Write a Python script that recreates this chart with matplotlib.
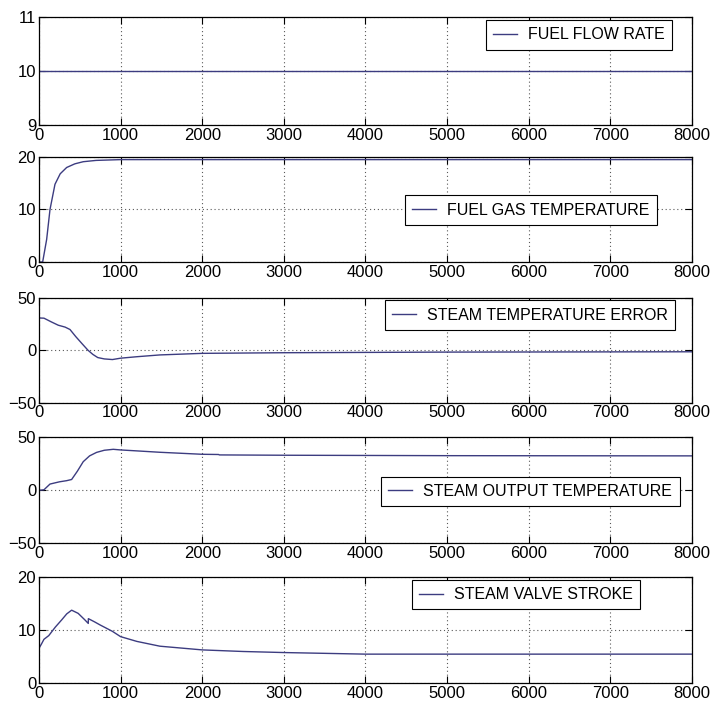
import numpy as np
import matplotlib.pyplot as plt

plt.rcParams['font.family'] = ['Liberation Sans', 'DejaVu Sans']

# time axis and values
t_flow = [0, 8000]
fuel_flow = [10, 10]

t_gas = [0, 45, 94, 135, 196, 260, 339, 440, 542, 700, 1000, 2000, 8000]
fuel_gas = [0, 0, 4.3, 10, 14.8, 16.8, 18.0, 18.7, 19.1, 19.35, 19.5, 19.5, 19.5]

t_err = [0, 61, 150, 236, 320, 380, 450, 530, 600, 660, 720, 800, 900, 1000, 1200, 1481, 2000, 3000, 5000, 8000]
steam_err = [30.7, 30.5, 27, 23.8, 22, 19.7, 13, 6, 0, -4, -7, -8.3, -8.9, -7.6, -6.2, -4.5, -3.0, -2.4, -1.8, -1.5]

t_out = [0, 61, 135, 250, 339, 400, 470, 542, 620, 706, 800, 910, 1000, 1200, 1481, 2000, 2200, 2210, 3000, 5000, 8000]
steam_out = [0, 0.5, 5.9, 8.0, 9.1, 10.2, 18, 27, 32.5, 35.8, 37.8, 38.7, 38.1, 37.2, 35.9, 34.0, 33.8, 33.4, 33.1, 32.7, 32.5]

t_valve = [0, 30, 61, 120, 200, 280, 340, 400, 480, 560, 604, 605, 680, 750, 900, 1000, 1200, 1481, 2000, 2500, 3000, 4000, 8000]
valve = [6.6, 7.4, 8.3, 9.0, 10.6, 12.0, 13.1, 13.8, 13.2, 12.0, 11.3, 12.2, 11.6, 11.0, 9.8, 8.8, 7.9, 7.0, 6.3, 6.0, 5.8, 5.5, 5.5]

series = [
    (t_flow, fuel_flow, 'FUEL FLOW RATE', (9, 11), [9, 10, 11]),
    (t_gas, fuel_gas, 'FUEL GAS TEMPERATURE', (0, 20), [0, 10, 20]),
    (t_err, steam_err, 'STEAM TEMPERATURE ERROR', (-50, 50), [-50, 0, 50]),
    (t_out, steam_out, 'STEAM OUTPUT TEMPERATURE', (-50, 50), [-50, 0, 50]),
    (t_valve, valve, 'STEAM VALVE STROKE', (0, 20), [0, 10, 20]),
]

# axes placement (figure fractions) and legend anchors (axes fractions)
bottoms = [0.8242, 0.6315, 0.4336, 0.2359, 0.0390]
heights = [0.152, 0.1477, 0.1477, 0.1490, 0.1490]
legend_anchor = [(0.970, 0.969), (0.946, 0.635), (0.974, 0.975), (0.981, 0.628), (0.921, 0.975)]

fig = plt.figure(figsize=(7.1, 7.11), dpi=100)
line_color = '#3c3c80'

for i, (t, y, label, ylim, yticks) in enumerate(series):
    ax = fig.add_axes([0.0549, bottoms[i], 0.9197, heights[i]])
    ax.plot(t, y, color=line_color, lw=1.0, label=label)
    ax.set_xlim(0, 8000)
    ax.set_ylim(*ylim)
    ax.set_xticks(range(0, 8001, 1000))
    ax.set_yticks(yticks)
    ax.grid(True, linestyle=(0, (1, 2.5)), color='0.35', linewidth=0.8)
    ax.tick_params(direction='in', top=True, right=True, length=5, labelsize=12, pad=2)
    for s in ax.spines.values():
        s.set_linewidth(0.9)
    leg = ax.legend(loc='upper right', bbox_to_anchor=legend_anchor[i], fontsize=11.5,
                    fancybox=False, edgecolor='black', framealpha=1, borderaxespad=0,
                    handlelength=1.5, borderpad=0.45, handletextpad=0.7)
    leg.get_frame().set_linewidth(0.8)

fig.savefig('out.png', dpi=100)
